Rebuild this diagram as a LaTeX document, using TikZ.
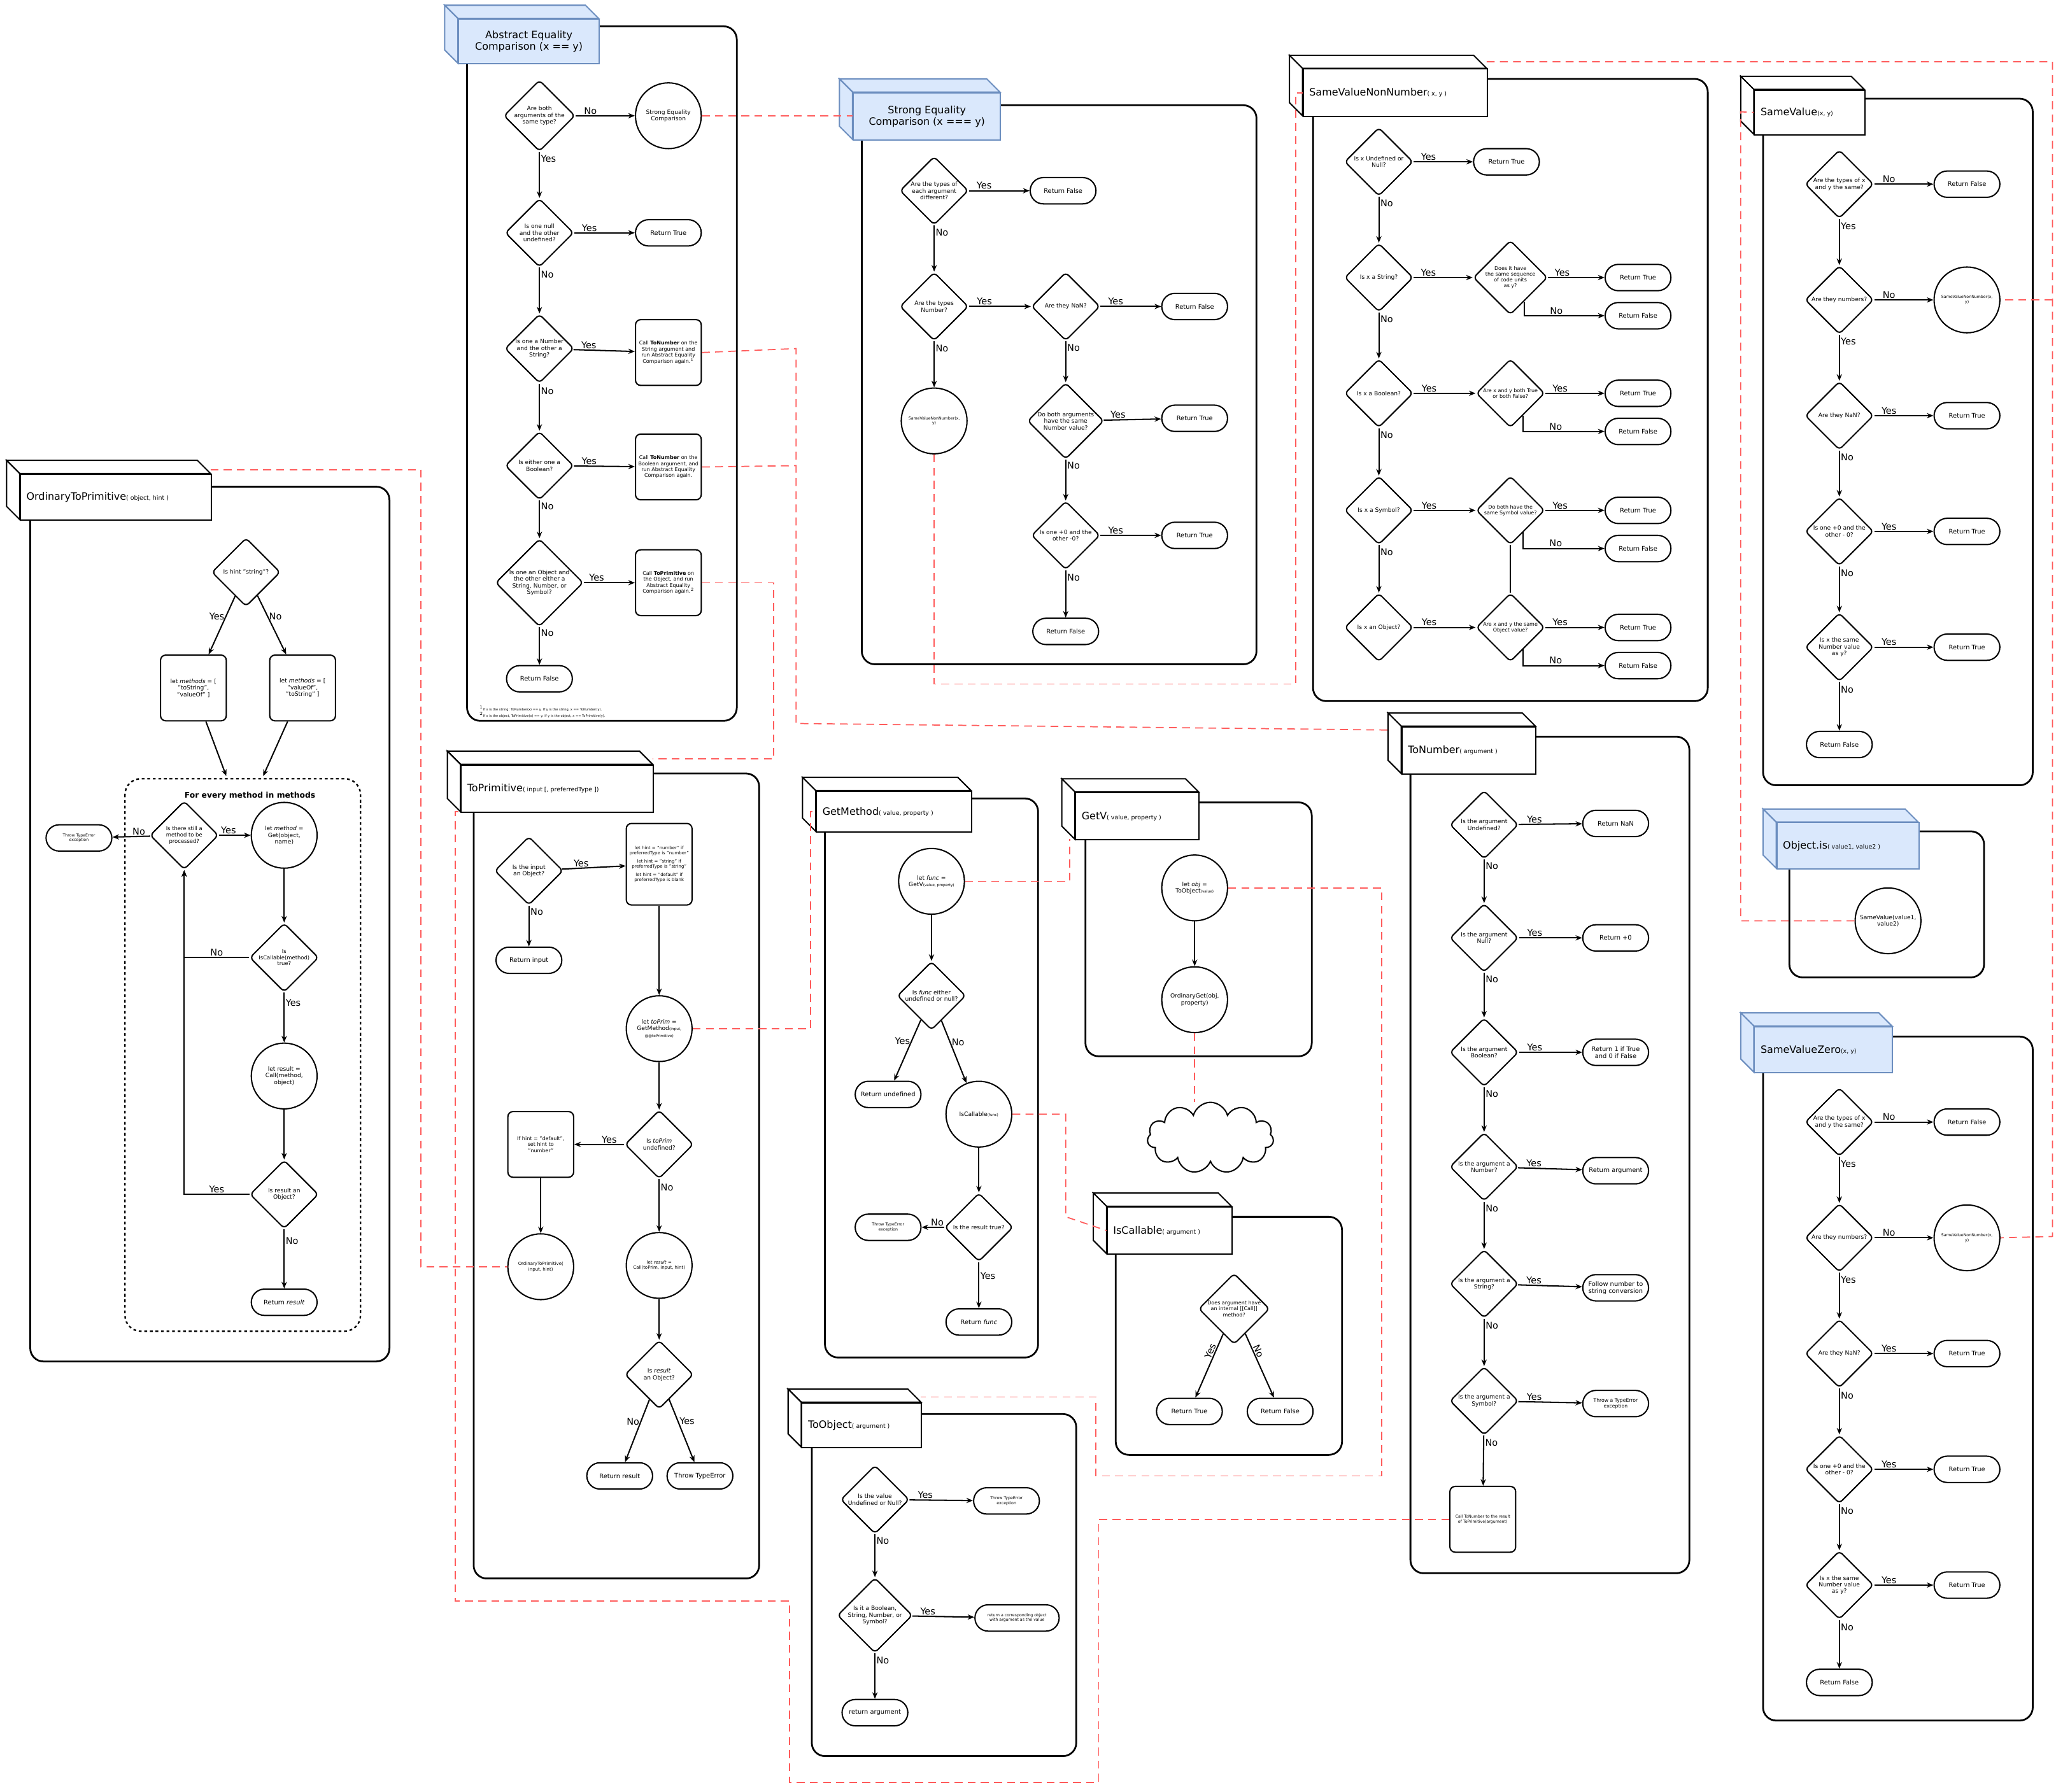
\documentclass[tikz,border=0pt]{standalone}
\usepackage{fontspec}
\setmainfont{DejaVu Sans}
\usetikzlibrary{shapes.geometric,shapes.symbols,arrows.meta}
\definecolor{red1}{HTML}{FF5C5C}
\definecolor{bfill}{HTML}{DAE8FC}
\definecolor{bdraw}{HTML}{6C8EBF}
\tikzset{
 base/.style={draw,line width=1.4pt,align=center,font=\fontsize{6.3}{7.2}\selectfont,inner sep=0.5pt,fill=white},
 dia/.style={base,diamond,minimum width=26mm,minimum height=26mm,rounded corners=1.5mm},
 circ/.style={base,circle,minimum size=25mm},
 ret/.style={base,rounded corners=5mm,minimum width=25mm,minimum height=10mm,font=\fontsize{6.8}{7.8}\selectfont},
 tall/.style={base,rounded corners=2mm,minimum width=25mm,minimum height=25mm,text width=23.5mm},
 arr/.style={line width=1.4pt,-{Stealth[length=2.5mm,width=2mm]}},
 ln/.style={line width=1.4pt},
 lab/.style={font=\fontsize{10}{11}\selectfont,inner sep=1pt},
 panel/.style={draw,line width=1.9pt,rounded corners=5mm,fill=white},
 link/.style={draw=red1,line width=1.2pt,dash pattern=on 3mm off 2mm},
 tw/.style={fill=white,draw=black,line width=1.4pt},
 tb/.style={fill=bfill,draw=bdraw,line width=1.4pt},
}
\newcommand\ttb[8]{%
 \path[#7] (#2-10,#3-10) -- (#4-10,#3-10) -- (#4,#3) -- (#2,#3) -- cycle;
 \path[#7] (#2-10,#3-10) -- (#2,#3) -- (#2,#5) -- (#2-10,#5-10) -- cycle;
 \node[#7,anchor=north west,inner sep=0pt,minimum width={(#4-#2)*0.5mm},minimum height={(#5-#3)*0.5mm}] (#1) at (#2,#3) {};
 \node[anchor=#8,align=left,font=\fontsize{11}{12.5}\selectfont,inner sep=0pt] (#1x) at ([xshift=2.5mm]#1.#8) {#6};}
\newcommand\ttc[7]{%
 \path[#7] (#2-10,#3-10) -- (#4-10,#3-10) -- (#4,#3) -- (#2,#3) -- cycle;
 \path[#7] (#2-10,#3-10) -- (#2,#3) -- (#2,#5) -- (#2-10,#5-10) -- cycle;
 \node[#7,anchor=north west,inner sep=0pt,minimum width={(#4-#2)*0.5mm},minimum height={(#5-#3)*0.5mm},align=center,font=\fontsize{11}{12.5}\selectfont] (#1) at (#2,#3) {#6};}
\newcommand\sm[1]{{\fontsize{6.5}{7}\selectfont #1}}
\begin{document}
\begin{tikzpicture}[x=0.5mm,y=-0.5mm]
\useasboundingbox (0,0) rectangle (1568,1362);

% ================= Abstract Equality =================
\draw[panel] (355,20) rectangle (560,548);
\ttc{aet}{348}{14}{455}{48}{Abstract Equality\\Comparison (x == y)}{tb}
\node[dia] (ae1) at (410,88) {Are both\\arguments of the\\same type?};
\node[circ] (ae1c) at (508,88) {Strong Equality\\Comparison};
\node[dia] (ae2) at (410,177) {Is one null\\and the other\\undefined?};
\node[ret] (ae2r) at (508,177) {Return True};
\node[dia] (ae3) at (410,265) {Is one a Number\\and the other a\\String?};
\node[tall,font=\fontsize{5.5}{6.5}\selectfont] (ae3r) at (508,268) {Call \textbf{ToNumber} on the String argument and run Abstract Equality Comparison again.$^1$};
\node[dia] (ae4) at (410,354) {Is either one a\\Boolean?};
\node[tall,font=\fontsize{5.5}{6.5}\selectfont] (ae4r) at (508,355) {Call \textbf{ToNumber} on the Boolean argument, and run Abstract Equality Comparison again.};
\node[dia] (ae5) at (410,443) {Is one an Object and\\the other either a\\String, Number, or\\Symbol?};
\node[tall,font=\fontsize{5.5}{6.5}\selectfont] (ae5r) at (508,443) {Call \textbf{ToPrimitive} on the Object, and run Abstract Equality Comparison again.$^2$};
\node[ret] (ae6) at (410,516) {Return False};
\node[font=\fontsize{3.5}{4.5}\selectfont,align=left,anchor=west] (aefn) at (362,541) {$^1$If x is the string: ToNumber(x) == y. If y is the string, x == ToNumber(y).\\$^2$If x is the object, ToPrimitive(x) == y. If y is the object, x == ToPrimitive(y).};
\draw[arr] (ae1) -- node[lab,pos=.25,above]{No} (ae1c);
\draw[arr] (ae1) -- node[lab,pos=.15,right]{Yes} (ae2);
\draw[arr] (ae2) -- node[lab,pos=.25,above]{Yes} (ae2r);
\draw[arr] (ae2) -- node[lab,pos=.15,right]{No} (ae3);
\draw[arr] (ae3) -- node[lab,pos=.25,above]{Yes} (ae3r);
\draw[arr] (ae3) -- node[lab,pos=.15,right]{No} (ae4);
\draw[arr] (ae4) -- node[lab,pos=.25,above]{Yes} (ae4r);
\draw[arr] (ae4) -- node[lab,pos=.15,right]{No} (ae5);
\draw[arr] (ae5) -- node[lab,pos=.25,above]{Yes} (ae5r);
\draw[arr] (ae5) -- node[lab,pos=.15,right]{No} (ae6);

% ================= Strong Equality =================
\draw[panel] (655,80) rectangle (955,505);
\ttc{set}{648}{70}{760}{106}{Strong Equality\\Comparison (x === y)}{tb}
\node[dia] (se1) at (710,145) {Are the types of\\each argument\\different?};
\node[ret] (se1r) at (808,145) {Return False};
\node[dia] (se2) at (710,233) {Are the types\\Number?};
\node[circ,font=\fontsize{4.3}{5.3}\selectfont] (se2c) at (710,320) {SameValueNonNumber(x,\\y)};
\node[dia] (se3) at (810,233) {Are they NaN?};
\node[ret] (se3r) at (908,233) {Return False};
\node[dia] (se4) at (810,320) {Do both arguments\\have the same\\Number value?};
\node[ret] (se4r) at (908,318) {Return True};
\node[dia] (se5) at (810,407) {Is one +0 and the\\other -0?};
\node[ret] (se5r) at (908,407) {Return True};
\node[ret] (se6) at (810,480) {Return False};
\draw[arr] (se1) -- node[lab,pos=.25,above]{Yes} (se1r);
\draw[arr] (se1) -- node[lab,pos=.15,right]{No} (se2);
\draw[arr] (se2) -- node[lab,pos=.15,right]{No} (se2c);
\draw[arr] (se2) -- node[lab,pos=.25,above]{Yes} (se3);
\draw[arr] (se3) -- node[lab,pos=.25,above]{Yes} (se3r);
\draw[arr] (se3) -- node[lab,pos=.15,right]{No} (se4);
\draw[arr] (se4) -- node[lab,pos=.25,above]{Yes} (se4r);
\draw[arr] (se4) -- node[lab,pos=.15,right]{No} (se5);
\draw[arr] (se5) -- node[lab,pos=.25,above]{Yes} (se5r);
\draw[arr] (se5) -- node[lab,pos=.15,right]{No} (se6);

% ================= SameValueNonNumber =================
\draw[panel] (998,60) rectangle (1298,533);
\ttb{svt}{990}{52}{1130}{88}{SameValueNonNumber\sm{( x, y )}}{tw}{west}
\node[dia] (v1a) at (1048,123) {Is x Undefined or\\Null?};
\node[ret] (v1r) at (1145,123) {Return True};
\node[dia] (v2a) at (1048,211) {Is x a String?};
\node[dia] (v3a) at (1048,299) {Is x a Boolean?};
\node[dia] (v4a) at (1048,388) {Is x a Symbol?};
\node[dia] (v5a) at (1048,477) {Is x an Object?};
\node[dia,font=\fontsize{5.5}{6.3}\selectfont] (w2) at (1148,211) {Does it have\\the same sequence\\of code units\\as y?};
\node[dia,font=\fontsize{5.5}{6.3}\selectfont] (w3) at (1148,299) {Are x and y both True\\or both False?};
\node[dia,font=\fontsize{5.5}{6.3}\selectfont] (w4) at (1148,388) {Do both have the\\same Symbol value?};
\node[dia,font=\fontsize{5.5}{6.3}\selectfont] (w5) at (1148,477) {Are x and y the same\\Object value?};
\foreach \i/\y in {2/211,3/299,4/388,5/477}{
 \node[ret] (w\i t) at (1245,\y) {Return True};
 \node[ret] (w\i f) at (1245,\y+29) {Return False};
 \draw[arr] (w\i) -- node[lab,pos=.25,above]{Yes} (w\i t);
 \draw[arr] (w\i.-60) |- node[lab,pos=.7,above]{No} (w\i f);
 \draw[arr] (v\i a) -- node[lab,pos=.25,above]{Yes} (w\i);
}
\draw[arr] (v1a) -- node[lab,pos=.25,above]{Yes} (v1r);
\draw[arr] (v1a) -- node[lab,pos=.15,right]{No} (v2a);
\draw[arr] (v2a) -- node[lab,pos=.15,right]{No} (v3a);
\draw[arr] (v3a) -- node[lab,pos=.15,right]{No} (v4a);
\draw[arr] (v4a) -- node[lab,pos=.15,right]{No} (v5a);
\draw[ln] (w4) -- (w5);

% ================= SameValue & SameValueZero =================
\draw[panel] (1340,75) rectangle (1545,597);
\ttb{sat}{1333}{68}{1417}{102}{SameValue\sm{(x, y)}}{tw}{west}
\draw[panel] (1340,788) rectangle (1545,1308);
\ttb{szt}{1333}{780}{1438}{815}{SameValueZero\sm{(x, y)}}{tb}{west}
\foreach \p/\o in {sa/0,sz/713}{
 \node[dia] (\p1) at (1398,140+\o) {Are the types of x\\and y the same?};
 \node[ret] (\p1r) at (1495,140+\o) {Return False};
 \node[dia] (\p2) at (1398,228+\o) {Are they numbers?};
 \node[circ,font=\fontsize{4.3}{5.3}\selectfont] (\p2r) at (1495,228+\o) {SameValueNonNumber(x,\\y)};
 \node[dia] (\p3) at (1398,316+\o) {Are they NaN?};
 \node[ret] (\p3r) at (1495,316+\o) {Return True};
 \node[dia] (\p4) at (1398,404+\o) {Is one +0 and the\\other - 0?};
 \node[ret] (\p4r) at (1495,404+\o) {Return True};
 \node[dia] (\p5) at (1398,492+\o) {Is x the same\\Number value\\as y?};
 \node[ret] (\p5r) at (1495,492+\o) {Return True};
 \node[ret] (\p6) at (1398,566+\o) {Return False};
 \draw[arr] (\p1) -- node[lab,pos=.25,above]{No} (\p1r);
 \draw[arr] (\p1) -- node[lab,pos=.15,right]{Yes} (\p2);
 \draw[arr] (\p2) -- node[lab,pos=.25,above]{No} (\p2r);
 \draw[arr] (\p2) -- node[lab,pos=.15,right]{Yes} (\p3);
 \draw[arr] (\p3) -- node[lab,pos=.25,above]{Yes} (\p3r);
 \draw[arr] (\p3) -- node[lab,pos=.15,right]{No} (\p4);
 \draw[arr] (\p4) -- node[lab,pos=.25,above]{Yes} (\p4r);
 \draw[arr] (\p4) -- node[lab,pos=.15,right]{No} (\p5);
 \draw[arr] (\p5) -- node[lab,pos=.25,above]{Yes} (\p5r);
 \draw[arr] (\p5) -- node[lab,pos=.15,right]{No} (\p6);
}

% ================= Object.is =================
\draw[panel] (1360,632) rectangle (1508,743);
\ttb{oit}{1350}{625}{1458}{660}{Object.is\sm{( value1, value2 )}}{tb}{west}
\node[circ] (oi) at (1435,700) {SameValue(value1,\\value2)};

% ================= OrdinaryToPrimitive =================
\draw[panel] (23,370) rectangle (296,1035);
\ttb{otpt}{15}{360}{160}{395}{OrdinaryToPrimitive\sm{( object, hint )}}{tw}{west}
\node[dia] (o1) at (187,435) {Is hint "string"?};
\node[tall,text width=22mm] (o1a) at (147,523) {let \textit{methods} = [\\"toString",\\"valueOf" ]};
\node[tall,text width=22mm] (o1b) at (230,523) {let \textit{methods} = [\\"valueOf",\\"toString" ]};
\draw[arr] (o1) -- node[lab,pos=.35,left]{Yes} (o1a);
\draw[arr] (o1) -- node[lab,pos=.35,right]{No} (o1b);
\draw[line width=1.6pt,dashed,rounded corners=6mm] (95,592) rectangle (274,1012);
\node[font=\bfseries\fontsize{8.5}{9}\selectfont] (ofor) at (190,605) {For every method in methods};
\coordinate (oin1) at (172,590);
\coordinate (oin2) at (200,590);
\draw[arr] (o1a) -- (oin1);
\draw[arr] (o1b) -- (oin2);
\node[dia,font=\fontsize{5.8}{6.6}\selectfont] (o2) at (140,635) {Is there still a\\method to be\\processed?};
\node[ret,font=\fontsize{4.3}{5}\selectfont] (o2t) at (60,637) {Throw TypeError\\exception};
\node[circ] (o3) at (216,635) {let \textit{method} =\\Get(object,\\name)};
\node[dia,font=\fontsize{5.8}{6.6}\selectfont] (o4) at (216,728) {Is\\IsCallable(method)\\true?};
\node[circ] (o5) at (216,818) {let result =\\Call(method,\\object)};
\node[dia] (o6) at (216,908) {Is result an\\Object?};
\node[ret] (o7) at (216,990) {Return \textit{result}};
\draw[arr] (o2) -- node[lab,pos=.3,above]{No} (o2t);
\draw[arr] (o2) -- node[lab,pos=.3,above]{Yes} (o3);
\draw[arr] (o3) -- (o4);
\draw[arr] (o4.west) -| node[lab,pos=.25,above]{No} (o2.south);
\draw[arr] (o4) -- node[lab,pos=.2,right]{Yes} (o5);
\draw[arr] (o5) -- (o6);
\draw[arr] (o6.west) -| node[lab,pos=.25,above]{Yes} (o2.south);
\draw[arr] (o6) -- node[lab,pos=.2,right]{No} (o7);

% ================= ToPrimitive =================
\draw[panel] (360,588) rectangle (577,1200);
\ttb{tpt}{350}{581}{496}{617}{ToPrimitive\sm{( input [, preferredType ])}}{tw}{west}
\node[dia] (t1) at (402,662) {Is the input\\an Object?};
\node[ret] (t1r) at (402,730) {Return input};
\node[tall,minimum height=31mm,font=\fontsize{4.8}{5.8}\selectfont] (t2) at (501,657) {let hint = "number" if preferredType is "number"\\[3pt]let hint = "string" if preferredType is "string"\\[3pt]let hint = "default" if preferredType is blank};
\node[circ] (t3) at (501,782) {let \textit{toPrim} =\\GetMethod{\fontsize{4}{5}\selectfont(input,}\\{\fontsize{4}{5}\selectfont @@toPrimitive)}};
\node[dia] (t4) at (501,870) {Is \textit{toPrim}\\undefined?};
\node[tall,text width=21mm,font=\fontsize{5.5}{6.5}\selectfont] (t5) at (411,870) {If hint = "default",\\set hint to\\"number"};
\node[circ,font=\fontsize{4.8}{5.8}\selectfont] (t6) at (411,963) {OrdinaryToPrimitive(\\input, hint)};
\node[circ,font=\fontsize{4.8}{5.8}\selectfont] (t7) at (501,962) {let \textit{result} =\\Call(toPrim, input, hint)};
\node[dia] (t8) at (501,1045) {Is \textit{result}\\an Object?};
\node[ret] (t9) at (471,1122) {Return result};
\node[ret] (t10) at (532,1122) {Throw TypeError};
\draw[arr] (t1) -- node[lab,pos=.15,right]{No} (t1r);
\draw[arr] (t1) -- node[lab,pos=.3,above]{Yes} (t2);
\draw[arr] (t2) -- (t3);
\draw[arr] (t3) -- (t4);
\draw[arr] (t4) -- node[lab,pos=.3,above]{Yes} (t5);
\draw[arr] (t5) -- (t6);
\draw[arr] (t4) -- node[lab,pos=.15,right]{No} (t7);
\draw[arr] (t7) -- (t8);
\draw[arr] (t8) -- node[lab,pos=.35,left]{No} (t9);
\draw[arr] (t8) -- node[lab,pos=.35,right]{Yes} (t10);

% ================= GetMethod =================
\draw[panel] (627,607) rectangle (789,1032);
\ttb{gmt}{620}{601}{738}{632}{GetMethod\sm{( value, property )}}{tw}{west}
\node[circ] (g1) at (708,670) {let \textit{func} =\\GetV{\fontsize{4}{5}\selectfont(value, property)}};
\node[dia] (g2) at (708,757) {Is \textit{func} either\\undefined or null?};
\node[ret] (g3) at (675,832) {Return undefined};
\node[circ] (g4) at (744,847) {IsCallable{\fontsize{4}{5}\selectfont(func)}};
\node[dia] (g5) at (744,933) {Is the result true?};
\node[ret,font=\fontsize{4.3}{5}\selectfont] (g6) at (675,933) {Throw TypeError\\exception};
\node[ret] (g7) at (744,1005) {Return \textit{func}};
\draw[arr] (g1) -- (g2);
\draw[arr] (g2) -- node[lab,pos=.35,left]{Yes} (g3);
\draw[arr] (g2) -- node[lab,pos=.35,right]{No} (g4);
\draw[arr] (g4) -- (g5);
\draw[arr] (g5) -- node[lab,pos=.3,above]{No} (g6);
\draw[arr] (g5) -- node[lab,pos=.3,right]{Yes} (g7);

% ================= GetV =================
\draw[panel] (825,610) rectangle (997,803);
\ttb{gvt}{817}{602}{911}{638}{GetV\sm{( value, property )}}{tw}{west}
\node[circ] (gv1) at (908,675) {let \textit{obj} =\\ToObject{\fontsize{4}{5}\selectfont(value)}};
\node[circ] (gv2) at (908,760) {OrdinaryGet(obj,\\property)};
\draw[arr] (gv1) -- (gv2);
\node[cloud,draw,line width=1.4pt,cloud puffs=11,aspect=1.9,minimum width=48mm,minimum height=27mm] (cl) at (920,865) {};

% ================= IsCallable =================
\draw[panel] (848,925) rectangle (1020,1106);
\ttb{ict}{841}{917}{936}{953}{IsCallable\sm{( argument )}}{tw}{west}
\node[dia,font=\fontsize{5.5}{6.3}\selectfont] (c1) at (938,995) {Does argument have\\an internal [[Call]]\\method?};
\node[ret] (c2) at (904,1073) {Return True};
\node[ret] (c3) at (973,1073) {Return False};
\draw[arr] (c1) -- node[lab,pos=.3,sloped,above]{Yes} (c2);
\draw[arr] (c1) -- node[lab,pos=.3,sloped,above]{No} (c3);

% ================= ToNumber =================
\draw[panel] (1072,560) rectangle (1284,1196);
\ttb{tnt}{1065}{552}{1167}{588}{ToNumber\sm{( argument )}}{tw}{west}
\node[dia] (n1) at (1128,627) {Is the argument\\Undefined?};
\node[dia] (n2) at (1128,713) {Is the argument\\Null?};
\node[dia] (n3) at (1128,800) {Is the argument\\Boolean?};
\node[dia] (n4) at (1128,887) {Is the argument a\\Number?};
\node[dia] (n5) at (1128,976) {Is the argument a\\String?};
\node[dia] (n6) at (1128,1065) {Is the argument a\\Symbol?};
\node[ret] (n1r) at (1228,626) {Return NaN};
\node[ret] (n2r) at (1228,713) {Return +0};
\node[ret] (n3r) at (1228,800) {Return 1 if True\\and 0 if False};
\node[ret] (n4r) at (1228,890) {Return argument};
\node[ret] (n5r) at (1228,979) {Follow number to\\string conversion};
\node[ret,font=\fontsize{5.3}{6.2}\selectfont] (n6r) at (1228,1067) {Throw a TypeError\\exception};
\node[tall,font=\fontsize{4.3}{5.3}\selectfont,text width=22mm] (n7) at (1127,1155) {Call ToNumber to the result of ToPrimitive(argument)};
\foreach \i in {1,...,6}{\draw[arr] (n\i) -- node[lab,pos=.25,above]{Yes} (n\i r);}
\foreach \i/\j in {1/2,2/3,3/4,4/5,5/6,6/7}{\draw[arr] (n\i) -- node[lab,pos=.15,right]{No} (n\j);}

% ================= ToObject =================
\draw[panel] (617,1075) rectangle (818,1335);
\ttb{tot}{609}{1066}{700}{1100}{ToObject\sm{( argument )}}{tw}{west}
\node[dia] (b1) at (665,1140) {Is the value\\Undefined or Null?};
\node[ret,font=\fontsize{4.3}{5}\selectfont] (b1r) at (765,1141) {Throw TypeError\\exception};
\node[dia] (b2) at (665,1228) {Is it a Boolean,\\String, Number, or\\Symbol?};
\node[ret,font=\fontsize{4.3}{5}\selectfont,minimum width=32mm] (b2r) at (773,1230) {return a corresponding object\\with argument as the value};
\node[ret] (b3) at (665,1302) {return argument};
\draw[arr] (b1) -- node[lab,pos=.25,above]{Yes} (b1r);
\draw[arr] (b1) -- node[lab,pos=.15,right]{No} (b2);
\draw[arr] (b2) -- node[lab,pos=.25,above]{Yes} (b2r);
\draw[arr] (b2) -- node[lab,pos=.15,right]{No} (b3);

% ================= red links (on top) =================
\draw[link] (ae1c.east) -- (set.west |- ae1c.east);
\draw[link] (ae3r.east) -- (605,265) -- (605,550) -- (1058,555);
\draw[link] (ae4r.east) -- (605,354);
\draw[link] (ae5r.east) -- (588,443) -- (588,577) -- (496,577);
\draw[link] (160,357) -- (320,357) -- (320,963) -- (t6.west);
\draw[link] (t3.east) -- (616,782) |- (gmt.west);
\draw[link] (g1.east) -- (813,670) -- (813,638);
\draw[link] (g4.east) -- (810,847) -- (810,925) -- (ict.west);
\draw[link] (gv1.east) -- (1050,675) -- (1050,1122) -- (833,1122) -- (833,1062) -- (700,1062);
\draw[link] (gv2.south) -- (gv2.south |- cl.north);
\draw[link] (se2c.south) |- (985,520) |- (svt.west);
\draw[link] (1130,47) -- (1560,47) -- (1560,940) -- (sz2r.east);
\draw[link] (1560,228) -- (sa2r.east);
\draw[link] (n7.west) -- (835,1155) -- (835,1355) -- (600,1355) -- (600,1217) -- (346,1217) -- (346,617) -- (350,617);
\draw[link] (oi.west) -- (1323,700) -- (1323,85) -- (sat.west);
\end{tikzpicture}
\end{document}
